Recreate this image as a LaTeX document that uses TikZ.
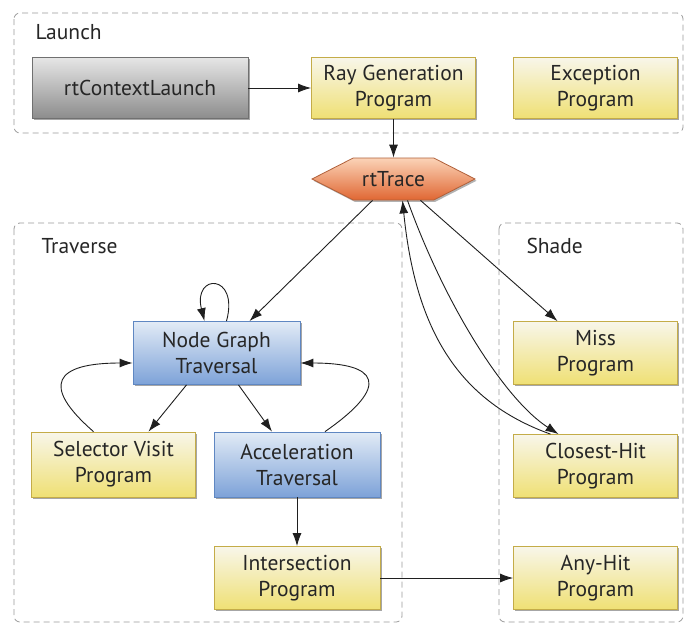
\documentclass[tikz,border=0pt]{standalone}
\usepackage{fontspec}
\setmainfont{PT Sans}
\usetikzlibrary{shapes.symbols,arrows.meta,shadows,calc}
\definecolor{txt}{HTML}{262626}
\definecolor{ylT}{HTML}{F8F6EA}
\definecolor{ylB}{HTML}{EFE074}
\definecolor{ylD}{HTML}{C4AC48}
\definecolor{blT}{HTML}{E2EBF6}
\definecolor{blB}{HTML}{7DA2D8}
\definecolor{blD}{HTML}{5F87C2}
\definecolor{grT}{HTML}{E6E6E6}
\definecolor{grB}{HTML}{8C8C8C}
\definecolor{grD}{HTML}{707070}
\definecolor{orT}{HTML}{FBD3B7}
\definecolor{orB}{HTML}{E06733}
\definecolor{orD}{HTML}{B0603A}
\definecolor{dash}{HTML}{9A9A9A}
\begin{document}
\begin{tikzpicture}[x=1pt,y=-1pt,
  every node/.style={text=txt,font=\fontsize{21.5}{26}\selectfont},
  box/.style={draw,line width=0.8pt,minimum width=164pt,minimum height=63pt,align=center,inner sep=2pt,
    drop shadow={shadow xshift=1.5pt,shadow yshift=-1.8pt,fill=black,opacity=0.35}},
  yel/.style={box,draw=ylD,top color=ylT,bottom color=ylB},
  blu/.style={box,draw=blD,top color=blT,bottom color=blB},
  gry/.style={box,draw=grD,top color=grT,bottom color=grB},
  grp/.style={draw=dash,dash pattern=on 6pt off 4pt,line width=0.8pt,rounded corners=6pt},
  lbl/.style={anchor=west},
  arr/.style={-{Latex[length=13pt,width=9pt]},line width=0.9pt,draw=black!88}
]
\useasboundingbox (0,0) rectangle (685,624);
% groups
\draw[grp] (14,13) rectangle (683,133);
\draw[grp] (14,223) rectangle (402,622);
\draw[grp] (499,223) rectangle (683,622);
\node[lbl] (launchlbl) at (32,32) {Launch};
\node[lbl] (travlbl) at (38,246) {Traverse};
\node[lbl] (shadelbl) at (523,246) {Shade};
% nodes
\node[gry,minimum width=216pt,minimum height=61pt] (rtcl) at (140,88) {rtContextLaunch};
\node[yel,minimum height=61pt] (raygen) at (393.5,88) {Ray Generation\\Program};
\node[yel,minimum height=61pt] (exc) at (595.5,88) {Exception\\Program};
\node[draw=orD,line width=0.8pt,top color=orT,bottom color=orB,signal,signal to=east and west,
  signal pointer angle=54,minimum width=163pt,minimum height=42pt,inner sep=1pt,
  drop shadow={shadow xshift=1.5pt,shadow yshift=-1.8pt,fill=black,opacity=0.3}] (rtTrace) at (393.5,179) {rtTrace};
\node[blu,minimum width=167pt] (ngt) at (216.5,353) {Node Graph\\Traversal};
\node[yel,minimum height=65pt] (sel) at (113.5,464.5) {Selector Visit\\Program};
\node[blu,minimum width=166pt,minimum height=65pt] (acc) at (297,464.5) {Acceleration\\Traversal};
\node[yel,minimum width=166pt] (isect) at (297,578) {Intersection\\Program};
\node[yel] (miss) at (595.5,353) {Miss\\Program};
\node[yel] (chit) at (595.5,466) {Closest-Hit\\Program};
\node[yel] (ahit) at (595.5,578) {Any-Hit\\Program};
% connectors
\draw[arr] (rtcl.east) -- (raygen.west);
\draw[arr] (raygen.south) -- (rtTrace.north);
\draw[arr] ([xshift=-21pt]rtTrace.south) -- ([xshift=33pt]ngt.north);
\draw[arr] ([xshift=10pt]ngt.north) .. controls +(13,-48) and +(-12,-48) .. ([xshift=-12pt]ngt.north);
\draw[arr] ([xshift=-30pt]ngt.south) -- ([xshift=35pt]sel.north);
\draw[arr] ([xshift=22pt]ngt.south) -- ([xshift=-25pt]acc.north);
\draw[arr] ([xshift=-20pt]sel.north) .. controls (40,385) and (55,363) .. ([yshift=-10pt]ngt.west);
\draw[arr] ([xshift=28pt]acc.north) .. controls (392,385) and (378,363) .. ([yshift=-10pt]ngt.east);
\draw[arr] (acc.south) -- (isect.north);
\draw[arr] (isect.east) -- (ahit.west);
\draw[arr] ([xshift=27pt]rtTrace.south) -- ([xshift=-38pt]miss.north);
\draw[arr] ([xshift=-45pt]chit.north) .. controls (455,400) and (415,325) .. ([xshift=9pt]rtTrace.south);
\draw[arr] ([xshift=14pt]rtTrace.south) .. controls (445,305) and (505,400) .. ([xshift=-37pt]chit.north);
\end{tikzpicture}
\end{document}
